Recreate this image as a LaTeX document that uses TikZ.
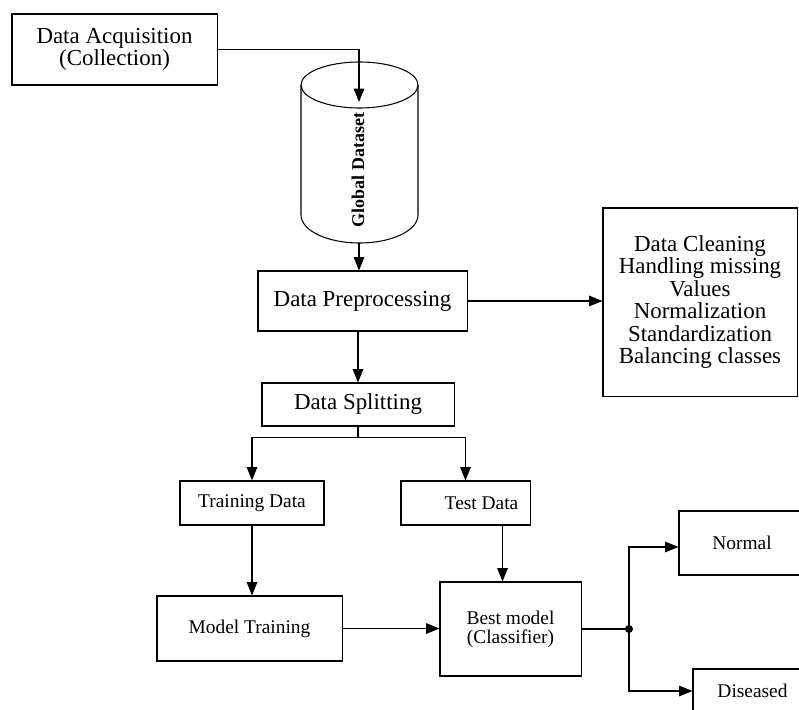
\documentclass[tikz,border=0pt]{standalone}
\usepackage{fontspec}
\setmainfont{Liberation Serif}
\usetikzlibrary{arrows.meta}

\begin{document}
\begin{tikzpicture}[x=0.025cm,y=-0.025cm,
    bigbox/.style={draw, line width=0.75pt, align=center, inner sep=0pt, font=\fontsize{16.3pt}{16pt}\selectfont},
    smallbox/.style={draw, line width=0.75pt, align=center, inner sep=0pt, font=\fontsize{13.8pt}{13.5pt}\selectfont},
    arr/.style={line width=0.75pt, -{Triangle[length=9.5pt,width=7.5pt]}},
    wire/.style={line width=0.75pt}]
                      \useasboundingbox (0,0) rectangle (799,709);
                      \clip (0,0) rectangle (799,709);
                      % boxes
                      \node[bigbox, minimum width=5.125cm, minimum height=1.775cm] (acq) at (114.5,49.5) {Data Acquisition\\(Collection)};
                      \node[bigbox, minimum width=5.225cm, minimum height=1.5cm] (prep) at (362.5,301) {Data Preprocessing};
                      \node[bigbox, minimum width=4.85cm, minimum height=4.7cm] (clean) at (700,302) {Data Cleaning\\Handling missing\\Values\\Normalization\\Standardization\\Balancing classes};
                      \node[bigbox, minimum width=4.8cm, minimum height=1.075cm] (split) at (358,404.5) {Data Splitting};
                      \node[smallbox, minimum width=3.6cm, minimum height=1.1cm] (train) at (252,503) {Training Data};
                      \node[smallbox, minimum width=3.225cm, minimum height=1.1cm] (test) at (465.5,503) {\hspace*{0.8cm}Test Data};
                      \node[smallbox, minimum width=4.625cm, minimum height=1.625cm] (mtrain) at (249.5,628.5) {Model Training};
                      \node[smallbox, minimum width=3.525cm, minimum height=2.35cm] (best) at (510.5,629) {Best model\\(Classifier)};
                      \node[smallbox, minimum width=3.15cm, minimum height=1.6cm] (normal) at (742,543) {Normal};
                      \node[smallbox, minimum width=2.975cm, minimum height=1.1cm] (diseased) at (752.5,691) {Diseased};
                      % dataset cylinder
                      \draw[wire] (359.5,85) ellipse [x radius=58.5, y radius=23];
                      \draw[wire] (301,85) -- (301,215) arc [start angle=180, end angle=0, x radius=58.5, y radius=28] -- (418,85);
                      \node[rotate=90, font=\fontsize{12.8pt}{13pt}\selectfont\bfseries] (gd) at (358,170) {Global Dataset};
                      \coordinate (dbtop) at (359,102);
                      \coordinate (dbbot) at (359,243);
                      \coordinate (hub) at (629,629);
                      % connectors
                      \draw[arr] (acq.east) -| (dbtop);
                      \draw[arr] (dbbot) -- (dbbot |- prep.north);
                      \draw[arr] (prep.east) -- (prep.east -| clean.west);
                      \draw[arr] (split.north |- prep.south) -- (split.north);
                      \draw[arr] (split.south) -- ++(0,11) -| (train.north);
                      \draw[arr] (split.south) -- ++(0,11) -| (test.north);
                      \draw[arr] (train.south) -- (train.south |- mtrain.north);
                      \draw[arr] ([xshift=0.925cm]test.south) -- ([xshift=0.925cm]test.south |- best.north);
                      \draw[arr] (mtrain.east) -- (mtrain.east -| best.west);
                      \draw[wire] (best.east) -- (hub);
                      \fill (hub) circle [radius=4];
                      \draw[arr] (hub) |- ([yshift=-0.1cm]normal.west);
                      \draw[arr] (hub) |- (diseased.west);
                  \end{tikzpicture}
\end{document}
